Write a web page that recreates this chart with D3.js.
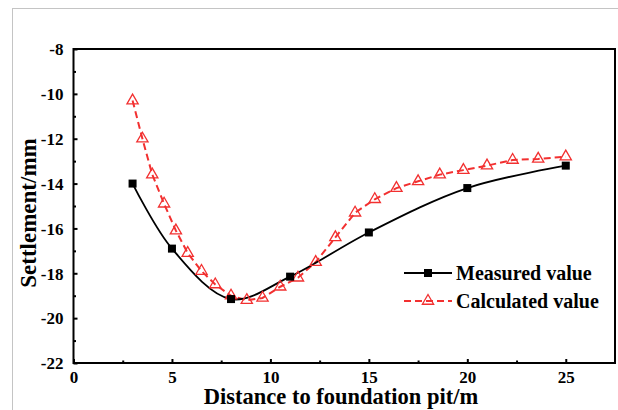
<!doctype html>
<html>
<head>
<meta charset="utf-8">
<title>Settlement</title>
<style>
    html, body { margin: 0; padding: 0; background: #fff; }
    svg { display: block; }
    text { font-family: "Liberation Serif", "Times New Roman", serif; font-weight: bold; fill: #000; }
</style>
</head>
<body>
<script src="https://d3js.org/d3.v7.min.js"></script>
<script>

    // measured points (black squares)
    var measuredX = [3, 5, 8, 11, 15, 20, 25];
    var measuredY = [-14.0, -16.9, -19.15, -18.15, -16.18, -14.2, -13.2];

    // calculated points (red triangles)
    var calcX = [3, 3.5, 4, 4.6, 5.2, 5.8, 6.5, 7.2, 8, 8.8, 9.6, 10.5, 11.4, 12.3, 13.3,
                 14.3, 15.3, 16.4, 17.5, 18.6, 19.8, 21, 22.3, 23.6, 25];
    var calcY = [-10.3, -12.0, -13.6, -14.9, -16.1, -17.1, -17.9, -18.5, -19.0, -19.2, -19.1,
                 -18.6, -18.2, -17.5, -16.4, -15.3, -14.7, -14.2, -13.9, -13.6, -13.4, -13.2,
                 -12.95, -12.9, -12.8];

    var xMajor = [0, 5, 10, 15, 20, 25];
    var xMinor = [2.5, 7.5, 12.5, 17.5, 22.5];
    var yMajor = [-22, -20, -18, -16, -14, -12, -10, -8];
    var yMinor = [-21, -19, -17, -15, -13, -11, -9];

    var seriesNames = ['Measured value', 'Calculated value'];

    var W = 618, H = 410;
    // plot box (note: "top" is a reserved window prop, so use pTop etc.)
    var pLeft = 73.5, pRight = 615, pTop = 49, pBottom = 363;
    var red = '#f23030';

    var svg = d3.select('body').append('svg')
        .attr('width', W)
        .attr('height', H);

    // outer grey frame of the figure
    svg.append('rect')
        .attr('x', 12.5).attr('y', 8.5)
        .attr('width', W).attr('height', H)
        .attr('fill', 'none')
        .attr('stroke', '#c4c4c4')
        .attr('stroke-width', 1);

    var x = d3.scaleLinear().domain([0, 27.5]).range([pLeft, pRight]);
    var y = d3.scaleLinear().domain([-22, -8]).range([pBottom, pTop]);

    // axes, ticks point inward
    var gx = svg.append('g').attr('transform', 'translate(0,' + pBottom + ')')
        .call(d3.axisBottom(x).tickValues(xMajor).tickSize(-4).tickSizeOuter(0).tickPadding(8)
            .tickFormat(d => String(d)));
    svg.append('g').attr('transform', 'translate(0,' + pBottom + ')')
        .call(d3.axisBottom(x).tickValues(xMinor).tickSize(-2.5).tickSizeOuter(0).tickFormat(''));

    var gy = svg.append('g').attr('transform', 'translate(' + pLeft + ',0)')
        .call(d3.axisLeft(y).tickValues(yMajor).tickSize(-4).tickSizeOuter(0).tickPadding(10)
            .tickFormat(d => String(d)));
    svg.append('g').attr('transform', 'translate(' + pLeft + ',0)')
        .call(d3.axisLeft(y).tickValues(yMinor).tickSize(-2.5).tickSizeOuter(0).tickFormat(''));

    svg.selectAll('.domain').remove();
    svg.selectAll('.tick line').attr('stroke', '#000').attr('stroke-width', 2);
    svg.selectAll('.tick text').style('font-size', '17px');
    gy.selectAll('.tick text').attr('dy', '0.34em');

    // plot frame
    svg.append('rect')
        .attr('x', pLeft).attr('y', pTop)
        .attr('width', pRight - pLeft).attr('height', pBottom - pTop)
        .attr('fill', 'none')
        .attr('stroke', '#000')
        .attr('stroke-width', 2);

    // axis titles
    svg.append('text')
        .attr('x', 341).attr('y', 404)
        .attr('text-anchor', 'middle')
        .style('font-size', '22.5px')
        .text('Distance to foundation pit/m');

    svg.append('text')
        .attr('transform', 'translate(36,213) rotate(-90)')
        .attr('text-anchor', 'middle')
        .style('font-size', '23px')
        .text('Settlement/mm');

    var measured = measuredX.map((d, i) => [d, measuredY[i]]);
    var calc = calcX.map((d, i) => [d, calcY[i]]);

    var smooth = d3.line().x(d => x(d[0])).y(d => y(d[1])).curve(d3.curveCatmullRom);
    var straight = d3.line().x(d => x(d[0])).y(d => y(d[1]));

    svg.append('path')
        .attr('d', straight(calc))
        .attr('fill', 'none')
        .attr('stroke', red)
        .attr('stroke-width', 2)
        .attr('stroke-dasharray', '7,4');

    svg.append('path')
        .attr('d', smooth(measured))
        .attr('fill', 'none')
        .attr('stroke', '#000')
        .attr('stroke-width', 1.8);

    var tri = d3.symbol().type(d3.symbolTriangle).size(55);

    svg.selectAll('.tri').data(calc).enter()
        .append('path')
        .attr('class', 'tri')
        .attr('transform', d => 'translate(' + x(d[0]) + ',' + y(d[1]) + ')')
        .attr('d', tri)
        .attr('fill', 'none')
        .attr('stroke', red)
        .attr('stroke-width', 1.3);

    svg.selectAll('.sq').data(measured).enter()
        .append('rect')
        .attr('class', 'sq')
        .attr('x', d => x(d[0]) - 4)
        .attr('y', d => y(d[1]) - 4)
        .attr('width', 8).attr('height', 8)
        .attr('fill', '#000');

    // legend
    var lg = svg.append('g').attr('transform', 'translate(404,273)');
    lg.append('line').attr('x1', 0).attr('x2', 48).attr('y1', 0).attr('y2', 0)
        .attr('stroke', '#000').attr('stroke-width', 1.8);
    lg.append('rect').attr('x', 20).attr('y', -4).attr('width', 8).attr('height', 8).attr('fill', '#000');
    lg.append('text').attr('x', 52).attr('y', 7).style('font-size', '20px').text(seriesNames[0]);

    lg.append('line').attr('x1', 0).attr('x2', 48).attr('y1', 28).attr('y2', 28)
        .attr('stroke', red).attr('stroke-width', 2).attr('stroke-dasharray', '7,4');
    lg.append('path').attr('transform', 'translate(24,28)').attr('d', tri)
        .attr('fill', 'none').attr('stroke', red).attr('stroke-width', 1.3);
    lg.append('text').attr('x', 52).attr('y', 35).style('font-size', '20px').text(seriesNames[1]);

</script>
</body>
</html>
